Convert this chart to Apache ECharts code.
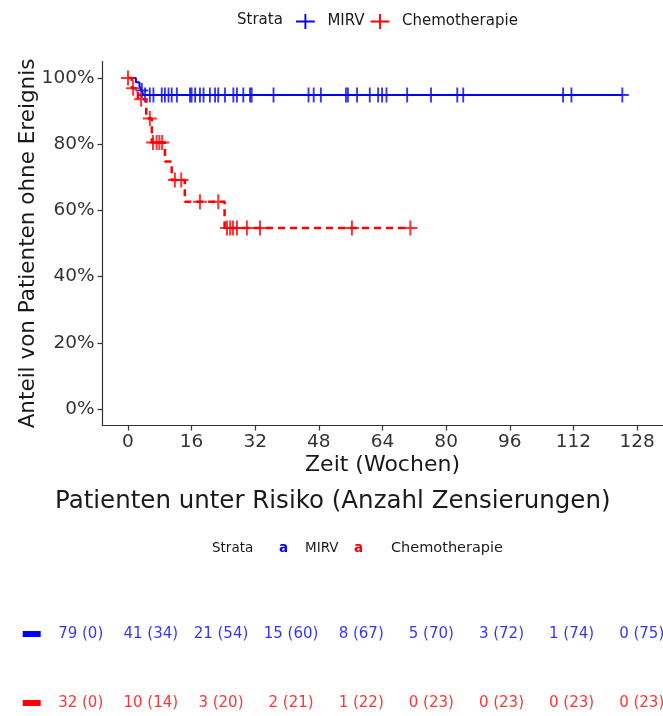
<!DOCTYPE html>
<html><head><meta charset="utf-8">
<script src="https://cdn.jsdelivr.net/npm/echarts@6/dist/echarts.min.js"></script>
<style>html,body{margin:0;padding:0;background:#fff}#c{width:663px;height:716px}</style>
</head><body><div id="c"></div>
<script>
// ---- data ----
const xTicks = [0, 16, 32, 48, 64, 80, 96, 112, 128];
const yTicks = [0, 0.2, 0.4, 0.6, 0.8, 1.0];
const strata = ['MIRV', 'Chemotherapie'];

const mirvEventTimes = [0, 2.0, 2.9, 3.4, 3.9];
const mirvSurvival   = [1, 0.987, 0.975, 0.962, 0.949];
const mirvCensorTimes = [3.5, 4.3, 5.5, 6.4, 8.5, 9.3, 10.2, 11.0, 12.3, 15.6, 16.0, 16.9, 18.1, 19.0,
  20.6, 21.9, 22.7, 24.4, 26.5, 27.4, 29.0, 30.7, 31.1, 36.6, 45.4, 46.7, 48.5, 54.8, 55.3, 57.6,
  60.8, 62.9, 63.9, 65.0, 70.2, 76.2, 82.8, 84.3, 109.4, 111.5, 124.3];

const chemoEventTimes = [0, 1.0, 2.5, 4.6, 6.0, 9.3, 11.0, 14.3, 24.3];
const chemoSurvival   = [1, 0.969, 0.936, 0.878, 0.805, 0.748, 0.692, 0.626, 0.547];
const chemoCensorTimes = [0.0, 1.3, 3.3, 5.5, 6.3, 7.2, 7.9, 8.6, 11.8, 13.4, 18.1, 22.7,
  24.9, 25.7, 26.4, 27.4, 29.9, 33.2, 56.3, 71.0];

const riskTimes     = [0, 16, 32, 48, 64, 80, 96, 112, 128];
const mirvAtRisk    = [79, 41, 21, 15, 8, 5, 3, 1, 0];
const mirvCensored  = [0, 34, 54, 60, 67, 70, 72, 74, 75];
const chemoAtRisk   = [32, 10, 3, 2, 1, 0, 0, 0, 0];
const chemoCensored = [0, 14, 20, 21, 22, 23, 23, 23, 23];

// ---- helpers ----
const BLUE = '#0000ff', RED = '#ff0000';
const FONT = 'DejaVu Sans';
function survAt(times, surv, t) {
  let s = surv[0];
  for (let i = 0; i < times.length; i++) if (times[i] <= t) s = surv[i];
  return s;
}
function lineData(times, surv, censors) {
  const d = times.map((t, i) => [t, surv[i]]);
  const last = Math.max(...censors);
  d.push([last, survAt(times, surv, last)]);
  return d;
}
function censorData(times, surv, censors) {
  return censors.map(t => [t, survAt(times, surv, t)]);
}
const plusPath = 'path://M0,6.5h14v2h-14z M6,0h2v15h-2z';
const legendPlus = 'path://M0,7h20v2h-20z M9,0h2v16h-2z';

const chart = echarts.init(document.getElementById('c'));
chart.setOption({
  animation: false,
  textStyle: { fontFamily: FONT },
  grid: [
    { left: 102.5, right: 0.5, top: 61.45, bottom: 290.45, containLabel: false },
    { left: 80.7, right: 21.3, top: 634, bottom: 13, containLabel: false }
  ],
  legend: {
    data: strata, left: 291, top: 9, itemWidth: 20, itemHeight: 15, itemGap: 6,
    icon: legendPlus,
    textStyle: { fontFamily: FONT, fontSize: 15, color: '#1a1a1a', padding: [0, 0, 0, 7] },
    itemStyle: { borderWidth: 0 }, lineStyle: { width: 0 }, selectedMode: false
  },
  graphic: [
    { type: 'text', left: 237, top: 13, style: { text: 'Strata', font: '15px "DejaVu Sans"', fill: '#1a1a1a' } },
    { type: 'text', left: 55, top: 489, style: { text: 'Patienten unter Risiko (Anzahl Zensierungen)', font: '24.5px "DejaVu Sans"', fill: '#1a1a1a' } },
    { type: 'text', left: 212, top: 541, style: { text: 'Strata', font: '13.5px "DejaVu Sans"', fill: '#1a1a1a' } },
    { type: 'text', left: 279, top: 541, style: { text: 'a', font: 'bold 13.5px "DejaVu Sans"', fill: BLUE } },
    { type: 'text', left: 305, top: 541, style: { text: 'MIRV', font: '13.5px "DejaVu Sans"', fill: '#1a1a1a' } },
    { type: 'text', left: 354, top: 541, style: { text: 'a', font: 'bold 13.5px "DejaVu Sans"', fill: RED } },
    { type: 'text', left: 391, top: 541, style: { text: 'Chemotherapie', font: '14.5px "DejaVu Sans"', fill: '#1a1a1a' } }
  ],
  xAxis: [
    {
      type: 'value', gridIndex: 0, min: -6.4, max: 134.4,
      name: 'Zeit (Wochen)', nameLocation: 'middle', nameGap: 29, nameMoveOverlap: false,
      nameTextStyle: { fontSize: 22, color: '#1a1a1a', fontFamily: FONT },
      axisLine: { show: true, onZero: false, lineStyle: { color: '#333', width: 1.2 } },
      axisTick: { show: true, length: 5, customValues: xTicks, lineStyle: { color: '#333', width: 1.2 } },
      axisLabel: { customValues: xTicks, fontSize: 18.5, color: '#333', margin: 7, fontFamily: FONT },
      splitLine: { show: false }
    },
    {
      type: 'value', gridIndex: 1, min: 0, max: 128, show: false, splitLine: { show: false }
    }
  ],
  yAxis: [
    {
      type: 'value', gridIndex: 0, min: -0.05, max: 1.05,
      name: 'Anteil von Patienten ohne Ereignis', nameLocation: 'middle', nameGap: 63, nameRotate: 90,
      nameMoveOverlap: false,
      nameTextStyle: { fontSize: 21.5, color: '#1a1a1a', fontFamily: FONT },
      axisLine: { show: true, onZero: false, lineStyle: { color: '#333', width: 1.2 } },
      axisTick: { show: true, length: 5, customValues: yTicks, lineStyle: { color: '#333', width: 1.2 } },
      axisLabel: { customValues: yTicks, fontSize: 18.5, color: '#333', margin: 8, fontFamily: FONT,
        formatter: v => Math.round(v * 100) + '%' },
      splitLine: { show: false }
    },
    {
      type: 'category', gridIndex: 1, data: ['Chemotherapie', 'MIRV'], boundaryGap: false,
      axisLine: { show: false }, axisTick: { show: false }, splitLine: { show: false },
      axisLabel: {
        margin: 40,
        formatter: v => v === 'MIRV' ? '{m| }' : '{c| }',
        rich: {
          m: { backgroundColor: BLUE, width: 18, height: 6, fontSize: 1, lineHeight: 6 },
          c: { backgroundColor: RED, width: 18, height: 6, fontSize: 1, lineHeight: 6 }
        }
      }
    }
  ],
  series: [
    {
      name: 'MIRV', type: 'line', xAxisIndex: 0, yAxisIndex: 0, step: 'end', symbol: 'none',
      data: lineData(mirvEventTimes, mirvSurvival, mirvCensorTimes),
      itemStyle: { color: BLUE }, lineStyle: { color: BLUE, width: 2 }, z: 2
    },
    {
      name: 'MIRV ', type: 'scatter', xAxisIndex: 0, yAxisIndex: 0, symbol: plusPath, symbolSize: [13, 15],
      data: censorData(mirvEventTimes, mirvSurvival, mirvCensorTimes),
      itemStyle: { color: BLUE }, z: 3
    },
    {
      name: 'Chemotherapie', type: 'line', xAxisIndex: 0, yAxisIndex: 0, step: 'end', symbol: 'none',
      data: lineData(chemoEventTimes, chemoSurvival, chemoCensorTimes),
      itemStyle: { color: RED }, lineStyle: { color: RED, width: 2.5, type: [7, 5] }, z: 4
    },
    {
      name: 'Chemotherapie ', type: 'scatter', xAxisIndex: 0, yAxisIndex: 0, symbol: plusPath, symbolSize: [14, 15],
      data: censorData(chemoEventTimes, chemoSurvival, chemoCensorTimes),
      itemStyle: { color: RED }, z: 5
    },
    {
      name: 'riskMIRV', type: 'scatter', xAxisIndex: 1, yAxisIndex: 1, symbolSize: 0,
      data: riskTimes.map(t => [t, 'MIRV']),
      label: { show: true, position: 'inside', fontSize: 15, color: BLUE, fontFamily: FONT,
        formatter: p => mirvAtRisk[p.dataIndex] + ' (' + mirvCensored[p.dataIndex] + ')' }
    },
    {
      name: 'riskChemo', type: 'scatter', xAxisIndex: 1, yAxisIndex: 1, symbolSize: 0,
      data: riskTimes.map(t => [t, 'Chemotherapie']),
      label: { show: true, position: 'inside', fontSize: 15, color: RED, fontFamily: FONT,
        formatter: p => chemoAtRisk[p.dataIndex] + ' (' + chemoCensored[p.dataIndex] + ')' }
    }
  ]
});
</script></body></html>
